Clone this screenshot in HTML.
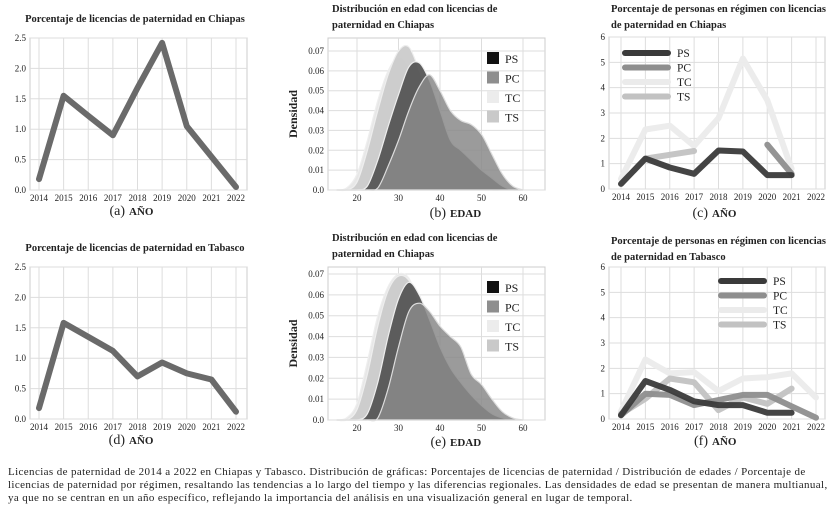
<!DOCTYPE html>
<html><head><meta charset="utf-8">
<style>
body{margin:0;background:#fff;font-family:"Liberation Serif",serif;}
#wrap{position:relative;width:840px;height:512px;overflow:hidden;}
#cap{position:absolute;left:8px;top:466px;width:830px;font-size:11px;line-height:13px;color:#222;white-space:nowrap;letter-spacing:0.38px;}
</style></head>
<body>
<div id="wrap">
<svg id="svg" width="840" height="512"></svg>
<div id="cap">Licencias de paternidad de 2014 a 2022 en Chiapas y Tabasco. Distribución de gráficas: Porcentajes de licencias de paternidad / Distribución de edades / Porcentaje de<br>licencias de paternidad por régimen, resaltando las tendencias a lo largo del tiempo y las diferencias regionales. Las densidades de edad se presentan de manera multianual,<br>ya que no se centran en un año específico, reflejando la importancia del análisis en una visualización general en lugar de temporal.</div>
</div>
<script>
const years=[2014,2015,2016,2017,2018,2019,2020,2021,2022];
const chiapasPct=[0.18,1.55,1.22,0.9,1.68,2.42,1.05,0.55,0.05];
const tabascoPct=[0.18,1.58,1.35,1.12,0.7,0.93,0.75,0.65,0.12];
const ages=[15,17.5,20,22.5,25,27.5,30,32.5,35,37.5,40,42.5,45,47.5,50,52.5,55,57.5,60];
const bPS=[0,0,0,0.002,0.015,0.032,0.048,0.062,0.064,0.055,0.04,0.025,0.02,0.015,0.01,0.006,0.002,0,0];
const bPC=[0,0,0,0,0.001,0.012,0.025,0.04,0.052,0.058,0.05,0.04,0.035,0.033,0.028,0.018,0.008,0.002,0];
const bTC=[0,0.001,0.008,0.025,0.045,0.06,0.067,0.062,0.05,0.035,0.022,0.012,0.006,0.003,0.001,0,0,0,0];
const bTS=[0,0,0.004,0.02,0.04,0.058,0.07,0.072,0.06,0.045,0.03,0.018,0.01,0.005,0.002,0,0,0,0];
const ePS=[0,0,0,0.003,0.018,0.04,0.058,0.066,0.06,0.048,0.035,0.025,0.018,0.012,0.007,0.003,0.001,0,0];
const ePC=[0,0,0,0,0.001,0.015,0.035,0.052,0.056,0.052,0.045,0.04,0.035,0.022,0.017,0.01,0.004,0.001,0];
const eTC=[0,0.001,0.008,0.028,0.05,0.064,0.07,0.068,0.055,0.04,0.026,0.015,0.008,0.004,0.001,0,0,0,0];
const eTS=[0,0,0.005,0.022,0.045,0.062,0.069,0.067,0.056,0.042,0.028,0.017,0.01,0.005,0.002,0,0,0,0];
const cPS=[0.2,1.2,0.85,0.6,1.52,1.48,0.55,0.55,null];
const cPC=[null,null,null,null,null,null,1.75,0.6,null];
const cTC=[0.4,2.35,2.5,1.7,2.8,5.15,3.5,0.8,null];
const cTS=[null,1.2,1.35,1.5,null,null,null,null,null];
const fPS=[0.15,1.5,1.15,0.7,0.55,0.55,0.25,0.25,null];
const fPC=[0.15,1.0,0.95,0.55,0.75,0.95,0.95,0.5,0.05];
const fTC=[0.3,2.35,1.8,1.85,1.1,1.6,1.65,1.8,0.85];
const fTS=[0.2,0.8,1.6,1.45,0.35,0.85,0.6,1.2,null];
const pctTicks=[0,0.5,1,1.5,2,2.5];
const densTicks=[0,0.01,0.02,0.03,0.04,0.05,0.06,0.07];
const ageTicks=[20,30,40,50,60];
const regTicks=[0,1,2,3,4,5,6];
const series=['PS','PC','TC','TS'];
const lineCol={PS:'#3a3a3a',PC:'#8e8e8e',TC:'#ebebeb',TS:'#c2c2c2'};
const areaCol={PS:'#555',PC:'#8a8a8a',TC:'#e6e6e6',TS:'#cbcbcb'};

const svg=document.getElementById('svg');
const NS='http://www.w3.org/2000/svg';
function mk(t,a,p){const e=document.createElementNS(NS,t);for(const k in a)e.setAttribute(k,a[k]);(p||svg).appendChild(e);return e;}
function txt(x,y,s,o,p){const e=mk('text',Object.assign({x:x,y:y,'font-size':10,fill:'#222','font-family':'"Liberation Serif",serif'},o||{}),p);e.textContent=s;return e;}

function panel(name,box,xd,yd,xt,yt,yfmt,title,lab,labx,laby){
  const g=mk('g',{});
  
  
  const sx=v=>box.x0+(v-xd[0])/(xd[1]-xd[0])*(box.x1-box.x0);
  const sy=v=>box.y0+(v-yd[0])/(yd[1]-yd[0])*(box.y1-box.y0);
  mk('rect',{x:box.l,y:box.t,width:box.r-box.l,height:box.b-box.t,fill:'#fff',stroke:'#ccc'},g);
  xt.forEach(v=>{mk('line',{x1:sx(v),x2:sx(v),y1:box.t,y2:box.b,stroke:'#ddd'},g);const t=txt(sx(v),box.b+11,String(v),{'text-anchor':'middle','font-size':9},g);});
  yt.forEach(v=>{mk('line',{x1:box.l,x2:box.r,y1:sy(v),y2:sy(v),stroke:'#ddd'},g);const t=txt(box.l-4,sy(v)+3,yfmt(v),{'text-anchor':'end','font-size':9},g);});
  title.forEach((s,i)=>{const t=txt(title.x,title.y+i*16,s,{'font-weight':'bold','font-size':10.5,'text-anchor':title.anchor||'start'},g);});
  const l=txt(labx,laby,lab[0],{'font-size':14,'text-anchor':'end'},g);
  
  const l2=txt(labx+4,laby,lab[1],{'font-size':11,'font-weight':'bold'},g);
  
  return {g,sx,sy};
}
function linePath(xs,ys,sx,sy){let d='',pen=false;ys.forEach((v,i)=>{if(v==null){pen=false;return;}d+=(pen?'L':'M')+sx(xs[i]).toFixed(1)+','+sy(v).toFixed(1);pen=true;});return d;}
function smoothPath(pts){
  let d='M'+pts[0][0].toFixed(1)+','+pts[0][1].toFixed(1);
  for(let i=0;i<pts.length-1;i++){
    const p0=pts[Math.max(0,i-1)],p1=pts[i],p2=pts[i+1],p3=pts[Math.min(pts.length-1,i+2)];
    const c1=[p1[0]+(p2[0]-p0[0])/6,p1[1]+(p2[1]-p0[1])/6];
    const c2=[p2[0]-(p3[0]-p1[0])/6,p2[1]-(p3[1]-p1[1])/6];
    d+='C'+c1[0].toFixed(1)+','+c1[1].toFixed(1)+' '+c2[0].toFixed(1)+','+c2[1].toFixed(1)+' '+p2[0].toFixed(1)+','+p2[1].toFixed(1);
  }
  return d;
}

function pctPanel(name,top,vals,title,letter){
  const box={l:30,r:247,t:top,b:top+152,x0:39,x1:236,y0:top+152,y1:top};
  const p=panel(name,box,[2014,2022],[0,2.5],years,pctTicks,v=>v.toFixed(1),title,letter,125,top+177);
  const l=mk('path',{d:linePath(years,vals,p.sx,p.sy),fill:'none',stroke:'#6a6a6a','stroke-width':6,'stroke-linejoin':'round','stroke-linecap':'round'},p.g);
  
}
let ta=['Porcentaje de licencias de paternidad en Chiapas'];ta.x=135;ta.y=22;ta.anchor='middle';
pctPanel('panel-a-chiapas-pct',38,chiapasPct,ta,['(a)','AÑO']);
let td=['Porcentaje de licencias de paternidad en Tabasco'];td.x=135;td.y=251;td.anchor='middle';
pctPanel('panel-d-tabasco-pct',267,tabascoPct,td,['(d)','AÑO']);

function densPanel(name,top,zero,top07,data,letter,laby){
  const box={l:328,r:545,t:top,b:zero,x0:357,x1:523,y0:zero,y1:top07};
  let t=['Distribución en edad con licencias de',' paternidad en Chiapas'];t.x=332;t.y=top-26;
  const p=panel(name,box,[20,60],[0,0.07],ageTicks,densTicks,v=>v===0?'0.0':v.toFixed(2),t,letter,446,laby);
  const yl=txt(0,0,'Densidad',{'font-weight':'bold','font-size':12,'text-anchor':'middle',transform:'translate(297,'+((top+zero)/2)+') rotate(-90)'},p.g);
  
  ['TC','TS','PS','PC'].forEach(s=>{
    const pts=data[s].map((v,i)=>[p.sx(ages[i]),p.sy(v)]);
    let d=smoothPath(pts)+'Z';
    const a=mk('path',{d:d,fill:areaCol[s],stroke:s==='PC'?'#ddd':'#eee','stroke-width':1.2,'fill-opacity':s==='PC'?0.85:0.95},p.g);
    
  });
  const lc={PS:'#111',PC:'#8e8e8e',TC:'#ececec',TS:'#c9c9c9'};
  series.forEach((s,i)=>{
    const r=mk('rect',{x:487,y:top+14+i*19.5,width:12,height:12,fill:lc[s]},p.g);
    
    const tt=txt(505,top+25+i*19.5,s,{'font-size':12},p.g);
    
  });
}
densPanel('panel-b-age-density',38,190,51,{PS:bPS,PC:bPC,TC:bTC,TS:bTS},['(b)','EDAD'],217);
densPanel('panel-e-age-density',267,420,274,{PS:ePS,PC:ePC,TC:eTC,TS:eTS},['(e)','EDAD'],446);

function regPanel(name,top,zero,data,title,letter,legX,legY,laby){
  const box={l:609,r:825,t:top,b:zero,x0:621,x1:816,y0:zero,y1:top};
  const p=panel(name,box,[2014,2022],[0,6],years,regTicks,v=>String(v),title,letter,708,laby);
  ['TC','TS','PC','PS'].forEach(s=>{
    const l=mk('path',{d:linePath(years,data[s],p.sx,p.sy),fill:'none',stroke:lineCol[s],'stroke-width':6,'stroke-linejoin':'round','stroke-linecap':'round','stroke-opacity':0.95},p.g);
    
  });
  series.forEach((s,i)=>{
    const l=mk('line',{x1:legX,x2:legX+43,y1:legY+i*14.5,y2:legY+i*14.5,stroke:lineCol[s],'stroke-width':6,'stroke-linecap':'round'},p.g);
    
    const t=txt(legX+52,legY+4+i*14.5,s,{'font-size':11.5},p.g);
    
  });
}
let tc=['Porcentaje de personas en régimen con licencias','de paternidad en Chiapas'];tc.x=611;tc.y=12;
regPanel('panel-c-chiapas-regime',37,189,{PS:cPS,PC:cPC,TC:cTC,TS:cTS},tc,['(c)','AÑO'],625,53,217);
let tf=['Porcentaje de personas en régimen con licencias','de paternidad en Tabasco'];tf.x=611;tf.y=244;
regPanel('panel-f-tabasco-regime',267,419,{PS:fPS,PC:fPC,TC:fTC,TS:fTS},tf,['(f)','AÑO'],721,281,445);
</script>
</body></html>
